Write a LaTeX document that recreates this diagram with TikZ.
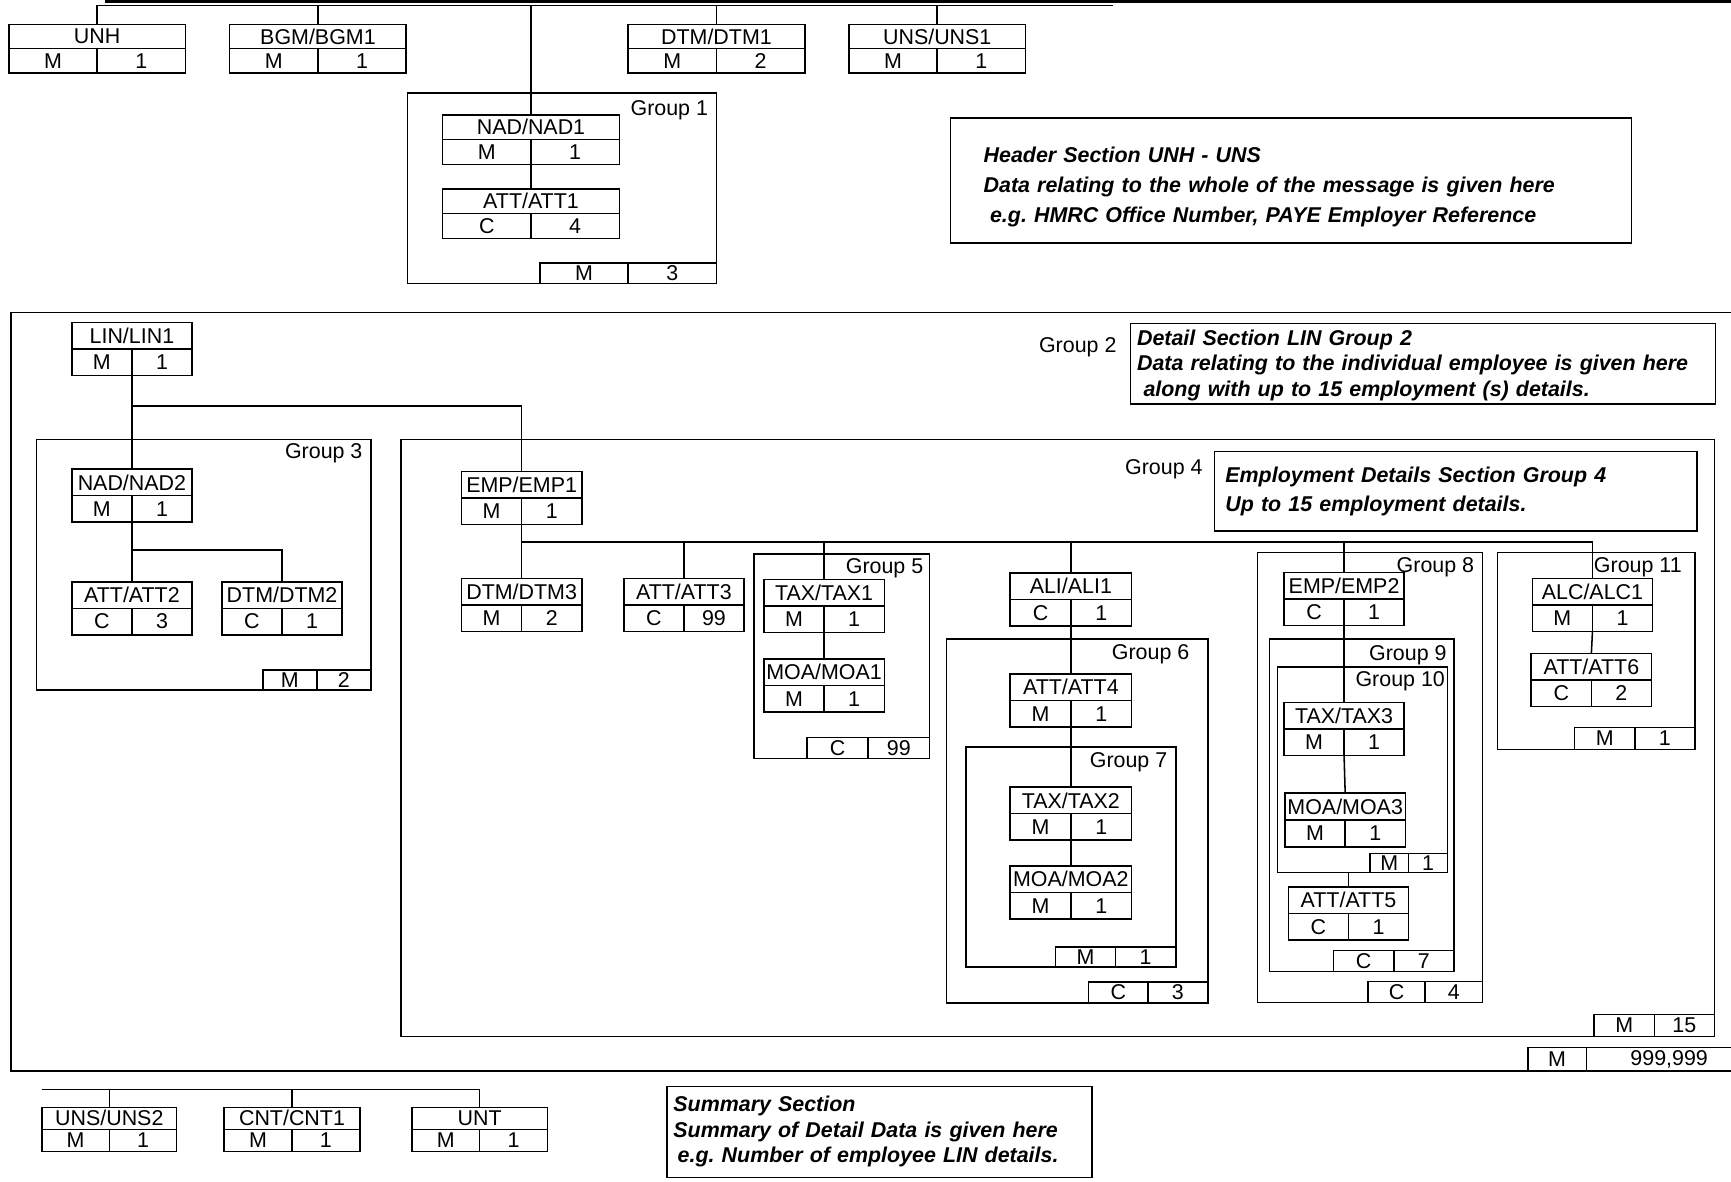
\documentclass[tikz,border=0pt]{standalone}
\usepackage{fontspec}
\setmainfont{Liberation Sans}
\tikzset{
  segname/.style={draw, rectangle, inner sep=0pt, outer sep=0pt, anchor=north west},
  segcell/.style={draw, rectangle, inner sep=0pt, outer sep=0pt},
  cntcell/.style={draw, rectangle, inner sep=0pt, outer sep=0pt},
  grplabel/.style={inner sep=0pt, anchor=north east},
  note/.style={draw, rectangle, inner ysep=0pt, outer sep=0pt, align=left, anchor=north west},
}
\newcommand{\seg}[8]{%
\node[segname, minimum width=#4*0.5pt, minimum height=#5*0.5pt] (#1) at (#2,#3) {#6};
\node[segcell, minimum width=#4*0.25pt, minimum height=#5*0.5pt, anchor=north west] (#1-st) at (#1.south west) {#7};
\node[segcell, minimum width=#4*0.25pt, minimum height=#5*0.5pt, anchor=north east] (#1-rp) at (#1.south east) {#8};}
\newcommand{\grp}[7]{%
\draw (#2) coordinate (#1-nw) rectangle (#3) coordinate (#1-se);
\node[cntcell, minimum width=#6*0.5pt, minimum height=#7*0.5pt, anchor=south east] (#1-rp) at (#1-se) {#5};
\node[cntcell, minimum width=#6*0.5pt, minimum height=#7*0.5pt, anchor=south east] (#1-st) at (#1-rp.south west) {#4};}
\begin{document}
\frenchspacing
\begin{tikzpicture}[x=0.5pt, y=-0.5pt, line width=0.7pt, font=\fontsize{9.7}{11.6}\selectfont]
\useasboundingbox (0,0) rectangle (1568,1070);
\draw[line width=1.4pt] (95,1.3) -- (1568,1.3);
\coordinate (topbar) at (1008,5);
\seg{unh}{8}{22}{160}{22}{UNH}{M}{1}
\seg{bgm1}{208}{22}{160}{22}{BGM/BGM1}{M}{1}
\seg{dtm1}{569}{22}{160}{22}{DTM/DTM1}{M}{2}
\seg{uns1}{769}{22}{160}{22}{UNS/UNS1}{M}{1}
\grp{g1}{369,84}{649,257}{M}{3}{80}{19}
\node[grplabel] (g1-lab) at (642,90) {Group 1};
\seg{nad1}{401}{104}{160}{22.5}{NAD/NAD1}{M}{1}
\seg{att1}{401}{171}{160}{22.5}{ATT/ATT1}{C}{4}
\draw (unh.north) |- (topbar);
\draw (bgm1.north) -- (bgm1.north |- topbar);
\draw (nad1.north) -- (nad1.north |- topbar);
\draw (dtm1.north) -- (dtm1.north |- topbar);
\draw (uns1.north) -- (uns1.north |- topbar);
\draw (nad1-st.south east) -- (att1.north);
\node[note, text width=278.5pt, inner xsep=15pt, minimum height=113*0.5pt, font=\fontsize{9.7}{13.6}\selectfont\bfseries\itshape] (hdrnote) at (861,107) {\rule{0pt}{13pt}Header Section UNH - UNS\\Data relating to the whole of the message is given here\\\hspace*{0.3em}e.g. HMRC Office Number, PAYE Employer Reference};

\draw (10,283) coordinate (g2-nw) rectangle (1600,970) coordinate (g2-se);
\node[cntcell, minimum width=53*0.5pt, minimum height=21*0.5pt, anchor=south west] (g2-st) at (1384,970) {M};
\node[cntcell, minimum width=150*0.5pt, minimum height=21*0.5pt, anchor=south west] (g2-rp) at (g2-st.south east) {999,999};
\node[grplabel] (g2-lab) at (1012,305) {Group 2};
\node[note, text width=259pt, inner xsep=3pt, minimum height=73*0.5pt, font=\fontsize{9.7}{11.6}\selectfont\bfseries\itshape] (detnote) at (1024,293) {\rule{0pt}{8.5pt}Detail Section LIN Group 2\\Data relating to the individual employee is given here\\\hspace*{0.3em}along with up to 15 employment (s) details.};
\seg{lin1}{65}{292}{109}{24}{LIN/LIN1}{M}{1}
\path (lin1-st.south east) ++(0,28) coordinate (lin1-j);

\grp{g3}{33,398}{336,625}{M}{2}{49}{18}
\node[grplabel] (g3-lab) at (329,401) {Group 3};
\seg{nad2}{65}{425}{109}{24}{NAD/NAD2}{M}{1}
\seg{att2}{65}{527}{109}{24}{ATT/ATT2}{C}{3}
\seg{dtm2}{201}{527}{109}{24}{DTM/DTM2}{C}{1}
\path (nad2-st.south east) ++(0,25) coordinate (nad2-j);
\draw (lin1-st.south east) -- (nad2.north);
\draw (nad2-st.south east) -- (att2.north);
\draw (nad2-j) -| (dtm2.north);

\grp{g4}{363,398}{1553,939}{M}{15}{54.5}{20}
\node[grplabel] (g4-lab) at (1090,416) {Group 4};
\node[note, text width=208.5pt, inner xsep=5pt, minimum height=72*0.5pt, font=\fontsize{9.7}{13.2}\selectfont\bfseries\itshape] (empnote) at (1100,409) {Employment Details Section Group 4\\Up to 15 employment details.};
\seg{emp1}{418}{427}{109}{24}{EMP/EMP1}{M}{1}
\draw (lin1-j) -| (emp1.north);
\path (emp1-st.south east) ++(0,16) coordinate (emp1-j);
\seg{dtm3}{418}{524}{109}{24}{DTM/DTM3}{M}{2}
\seg{att3}{565}{524}{109}{24}{ATT/ATT3}{C}{99}

\grp{g5}{683,502}{842,687}{C}{99}{55.5}{19}
\node[grplabel] (g5-lab) at (837,505) {Group 5};
\seg{tax1}{692}{525}{109}{24}{TAX/TAX1}{M}{1}
\seg{moa1}{692}{597}{109}{24}{MOA/MOA1}{M}{1}
\draw (tax1-st.south east) -- (moa1.north);

\seg{ali1}{915}{519}{110}{24}{ALI/ALI1}{C}{1}
\grp{g6}{857.5,579}{1094,908.6}{C}{3}{54}{19}
\node[grplabel] (g6-lab) at (1078,583.5) {Group 6};
\seg{att4}{915}{610.5}{110}{24}{ATT/ATT4}{M}{1}
\grp{g7}{875,676.6}{1065,876}{M}{1}{54.5}{18}
\node[grplabel] (g7-lab) at (1058,681) {Group 7};
\seg{tax2}{915}{713}{110}{24}{TAX/TAX2}{M}{1}
\seg{moa2}{915}{784.4}{110}{24}{MOA/MOA2}{M}{1}
\draw (ali1-st.south east) -- (att4.north);
\draw (att4-st.south east) -- (tax2.north);
\draw (tax2-st.south east) -- (moa2.north);

\grp{g8}{1139,500.6}{1343,908}{C}{4}{52}{19}
\node[grplabel] (g8-lab) at (1336,504) {Group 8};
\seg{emp2}{1163}{518.7}{109}{24}{EMP/EMP2}{C}{1}
\grp{g9}{1150,579}{1317,880}{C}{7}{54.5}{19}
\node[grplabel] (g9-lab) at (1311,583.6) {Group 9};
\grp{g10}{1157,604}{1311,790.5}{M}{1}{35}{17.5}
\node[grplabel] (g10-lab) at (1309.5,607.8) {Group 10};
\seg{tax3}{1163}{636.5}{109}{24}{TAX/TAX3}{M}{1}
\seg{moa3}{1164}{718.3}{109}{24.5}{MOA/MOA3}{M}{1}
\seg{att5}{1167}{803.4}{109}{24}{ATT/ATT5}{C}{1}
\draw (emp2-st.south east) -- (tax3.north);
\draw (tax3-st.south east) -- (moa3.north);
\draw (att5.north) -- (att5.north |- g10-se);

\grp{g11}{1356.6,500.6}{1535.3,679}{M}{1}{54.5}{20}
\node[grplabel] (g11-lab) at (1524,504) {Group 11};
\seg{alc1}{1388}{524}{109}{24}{ALC/ALC1}{M}{1}
\seg{att6}{1387}{592}{109}{24}{ATT/ATT6}{C}{2}
\draw (alc1-st.south east) -- (att6.north);

\draw (emp1-st.south east) -- (dtm3.north);
\draw (emp1-j) -| (alc1.north);
\draw (att3.north) -- (att3.north |- emp1-j);
\draw (tax1.north) -- (tax1.north |- emp1-j);
\draw (ali1.north) -- (ali1.north |- emp1-j);
\draw (emp2.north) -- (emp2.north |- emp1-j);

\coordinate (botbar) at (38,987);
\seg{uns2}{38}{1003}{122}{20}{UNS/UNS2}{M}{1}
\seg{cnt1}{203}{1003}{123}{20}{CNT/CNT1}{M}{1}
\seg{unt}{373}{1003}{123}{20}{UNT}{M}{1}
\draw (botbar) -| (unt.north);
\draw (uns2.north) -- (uns2.north |- botbar);
\draw (cnt1.north) -- (cnt1.north |- botbar);
\node[note, text width=186.5pt, inner xsep=3pt, minimum height=82.5*0.5pt, font=\fontsize{9.7}{11.5}\selectfont\bfseries\itshape] (sumnote) at (604,984) {Summary Section\\Summary of Detail Data is given here\\\hspace*{0.2em}e.g. Number of employee LIN details.};
\end{tikzpicture}
\end{document}
